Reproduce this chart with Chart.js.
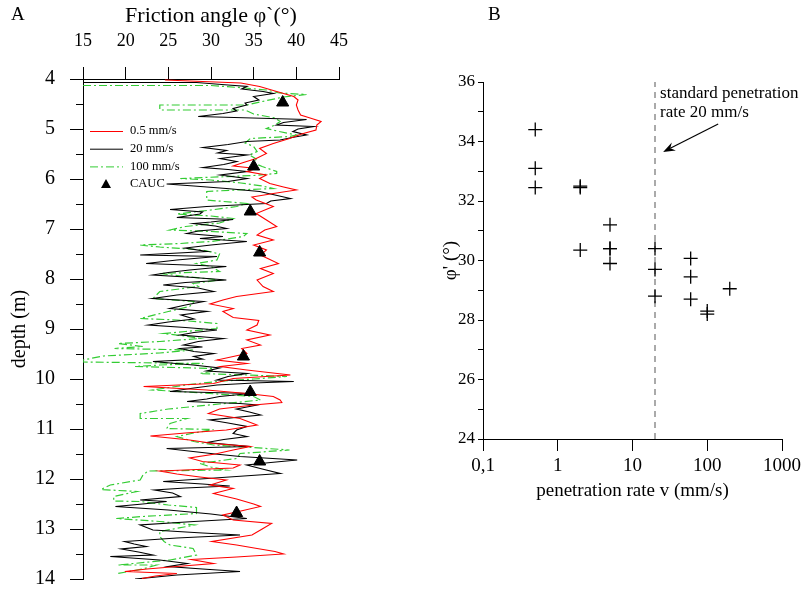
<!DOCTYPE html>
<html>
<head>
<meta charset="utf-8">
<script src="https://cdn.jsdelivr.net/npm/chart.js@4.4.1/dist/chart.umd.min.js"></script>
<style>
  html, body { margin: 0; padding: 0; background: #fff; }
  #page { position: relative; width: 809px; height: 590px; font-family: "Liberation Serif", "Times New Roman", serif; }
  .wrap { position: absolute; top: 0; }
  .tag { position: absolute; top: 3px; font-size: 19px; color: #000; }
</style>
</head>
<body>
<div id="page">
  <div class="wrap" style="left:0;width:400px;height:590px"><canvas id="chartA" width="400" height="590"></canvas></div>
  <div class="wrap" style="left:400px;width:409px;height:590px"><canvas id="chartB" width="409" height="590"></canvas></div>
  <div class="tag" style="left:11px">A</div>
  <div class="tag" style="left:488px">B</div>
</div>
<script>
// ---- panel A : friction angle profiles, [depth (m), phi (deg)] ----
const rate05 = [[4.02,24.6],[4.05,29.0],[4.08,33.5],[4.15,35.7],[4.25,37.7],[4.35,39.7],[4.42,40.2],[4.52,40.0],[4.62,40.2],[4.72,40.5],[4.79,41.8],[4.85,42.9],[4.92,42.4],[5.02,42.3],[5.10,40.6],[5.19,39.2],[5.29,37.3],[5.39,35.7],[5.49,36.5],[5.59,35.3],[5.67,33.8],[5.74,32.6],[5.79,35.3],[5.85,34.2],[5.92,36.5],[5.99,35.7],[6.09,36.9],[6.16,38.5],[6.22,40.0],[6.29,37.3],[6.36,34.8],[6.42,35.3],[6.55,37.3],[6.69,35.3],[6.82,36.5],[6.95,37.7],[7.02,36.3],[7.12,35.4],[7.22,37.3],[7.32,35.0],[7.42,36.5],[7.52,35.8],[7.69,37.9],[7.79,35.8],[7.89,37.3],[8.02,35.4],[8.15,36.1],[8.25,37.3],[8.35,33.0],[8.42,31.4],[8.50,29.9],[8.59,32.6],[8.65,31.4],[8.77,32.6],[8.83,35.6],[8.92,35.4],[9.02,34.2],[9.12,36.9],[9.22,34.2],[9.32,35.8],[9.39,33.6],[9.49,34.2],[9.55,32.6],[9.62,30.7],[9.69,34.2],[9.75,31.1],[9.82,34.2],[9.92,39.3],[9.99,32.6],[10.09,30.3],[10.15,22.1],[10.22,29.5],[10.29,34.2],[10.35,37.3],[10.42,38.1],[10.47,38.3],[10.52,35.0],[10.60,31.0],[10.69,29.7],[10.79,33.4],[10.92,35.4],[11.02,31.8],[11.08,27.0],[11.14,22.9],[11.22,27.5],[11.29,30.3],[11.35,34.6],[11.42,32.6],[11.50,30.5],[11.58,27.5],[11.65,29.0],[11.72,33.4],[11.78,32.6],[11.84,24.0],[11.90,26.0],[11.96,28.7],[12.02,31.8],[12.12,29.9],[12.19,32.6],[12.29,30.3],[12.40,33.0],[12.50,35.0],[12.55,35.8],[12.64,33.5],[12.72,31.4],[12.82,32.6],[12.89,37.1],[13.00,36.0],[13.12,34.8],[13.25,30.1],[13.32,33.0],[13.39,35.4],[13.45,37.5],[13.50,38.5],[13.56,33.0],[13.61,27.7],[13.69,30.3],[13.75,26.0],[13.80,22.5],[13.85,19.9],[13.89,26.0],[13.94,23.5],[13.99,21.9]];

const rate20 = [[4.07,15.0],[4.07,28.3],[4.12,32.0],[4.15,34.2],[4.20,33.6],[4.25,36.1],[4.29,37.3],[4.35,35.0],[4.42,35.6],[4.48,34.0],[4.52,34.2],[4.59,32.6],[4.64,33.0],[4.69,31.4],[4.75,28.5],[4.81,41.2],[4.87,38.5],[4.92,37.7],[4.95,42.0],[5.00,40.2],[5.05,39.6],[5.12,41.2],[5.17,39.5],[5.22,38.1],[5.25,34.2],[5.31,32.0],[5.37,29.1],[5.43,31.8],[5.48,30.8],[5.52,34.2],[5.59,31.1],[5.65,33.0],[5.71,31.5],[5.77,29.1],[5.81,32.0],[5.85,34.2],[5.92,31.1],[5.99,34.2],[6.05,32.0],[6.10,24.8],[6.14,28.0],[6.19,31.8],[6.25,35.7],[6.32,37.5],[6.39,39.3],[6.44,37.0],[6.49,36.5],[6.55,29.5],[6.61,25.2],[6.66,29.0],[6.70,28.7],[6.77,26.0],[6.81,32.6],[6.86,30.0],[6.89,28.0],[6.94,30.5],[6.99,31.8],[7.04,28.5],[7.09,27.2],[7.15,31.4],[7.19,28.7],[7.25,34.2],[7.32,30.0],[7.38,27.0],[7.45,29.5],[7.52,21.7],[7.55,30.7],[7.62,26.0],[7.69,22.4],[7.75,31.8],[7.82,27.5],[7.87,25.0],[7.92,23.2],[7.97,28.0],[8.02,31.8],[8.07,27.0],[8.12,24.4],[8.18,28.5],[8.25,30.3],[8.32,26.0],[8.39,23.2],[8.45,29.1],[8.52,27.0],[8.59,25.2],[8.65,29.5],[8.72,26.5],[8.80,28.0],[8.86,25.0],[8.92,22.7],[8.97,27.0],[9.02,30.7],[9.07,28.0],[9.12,26.4],[9.19,31.4],[9.25,28.5],[9.32,26.8],[9.36,29.0],[9.39,26.4],[9.45,28.0],[9.49,30.3],[9.55,28.0],[9.60,29.0],[9.65,23.2],[9.72,27.9],[9.78,31.0],[9.84,29.5],[9.89,34.2],[9.95,32.0],[10.02,30.7],[10.05,39.7],[10.08,35.0],[10.12,30.7],[10.18,28.0],[10.25,25.2],[10.29,34.6],[10.35,31.0],[10.40,29.5],[10.45,27.2],[10.49,33.4],[10.52,35.4],[10.60,33.0],[10.66,34.5],[10.72,35.8],[10.82,29.9],[10.88,32.0],[10.95,34.2],[11.02,33.0],[11.09,32.6],[11.15,34.2],[11.21,31.5],[11.27,29.5],[11.35,34.6],[11.39,24.8],[11.45,27.9],[11.50,30.5],[11.55,33.4],[11.62,40.1],[11.67,37.0],[11.72,34.2],[11.80,36.0],[11.89,38.1],[11.95,33.0],[12.01,27.9],[12.05,24.4],[12.10,29.0],[12.14,32.2],[12.18,27.0],[12.22,23.4],[12.28,25.5],[12.35,26.4],[12.42,21.7],[12.45,24.8],[12.50,22.0],[12.55,18.8],[12.62,25.0],[12.70,30.0],[12.79,34.2],[12.85,28.0],[12.92,21.7],[13.02,23.2],[13.08,29.0],[13.12,33.4],[13.18,26.0],[13.25,19.9],[13.30,21.0],[13.35,22.4],[13.40,19.5],[13.46,21.5],[13.52,23.2],[13.55,18.2],[13.62,24.0],[13.69,27.2],[13.75,25.0],[13.80,29.0],[13.85,33.4],[13.92,26.0],[14.00,21.1]];

const rate100 = [[4.13,15.0],[4.13,30.0],[4.18,34.0],[4.22,36.5],[4.28,38.0],[4.31,41.2],[4.36,38.5],[4.45,36.0],[4.52,34.2],[4.52,24.0],[4.62,24.0],[4.62,34.0],[4.70,35.0],[4.78,37.5],[4.85,38.1],[4.92,37.5],[4.99,36.5],[5.05,38.0],[5.12,40.0],[5.15,39.2],[5.19,34.6],[5.28,34.0],[5.35,35.0],[5.45,35.4],[5.52,34.5],[5.60,35.3],[5.68,35.0],[5.75,36.0],[5.85,37.7],[5.89,37.7],[5.93,35.0],[5.99,26.4],[6.02,30.0],[6.08,33.5],[6.14,36.0],[6.19,37.3],[6.22,33.0],[6.25,29.5],[6.42,29.5],[6.49,34.2],[6.55,33.0],[6.62,30.0],[6.70,26.0],[6.74,30.0],[6.79,32.6],[6.88,31.0],[6.95,27.0],[7.02,25.2],[7.05,30.0],[7.09,34.2],[7.15,33.8],[7.25,30.0],[7.29,26.4],[7.32,21.7],[7.36,24.0],[7.42,29.0],[7.50,31.0],[7.62,30.7],[7.69,28.3],[7.75,30.0],[7.85,31.0],[7.89,24.0],[7.95,27.0],[8.02,31.0],[8.09,27.9],[8.15,28.5],[8.25,24.0],[8.39,23.2],[8.45,28.0],[8.55,27.5],[8.65,25.0],[8.79,21.7],[8.82,26.0],[8.89,30.7],[8.99,30.7],[9.05,27.0],[9.09,24.4],[9.14,27.0],[9.19,28.7],[9.25,24.0],[9.29,19.1],[9.35,22.0],[9.39,18.7],[9.42,27.9],[9.48,24.0],[9.54,17.4],[9.62,15.0],[9.66,15.0],[9.69,29.1],[9.72,24.0],[9.75,21.1],[9.79,30.3],[9.85,30.0],[9.89,28.7],[9.92,34.2],[9.95,38.9],[10.00,35.0],[10.05,30.7],[10.12,27.0],[10.22,23.2],[10.28,29.0],[10.35,35.0],[10.42,35.8],[10.50,31.0],[10.60,25.0],[10.69,21.7],[10.79,21.7],[10.79,27.2],[10.89,25.2],[10.99,24.8],[11.01,30.3],[11.08,28.0],[11.15,26.0],[11.25,28.0],[11.32,30.3],[11.42,39.2],[11.49,33.4],[11.59,33.0],[11.69,28.7],[11.76,30.0],[11.82,31.8],[11.84,22.6],[11.93,22.0],[12.02,21.7],[12.12,18.2],[12.21,17.1],[12.25,21.3],[12.35,18.6],[12.44,18.6],[12.45,21.7],[12.52,25.0],[12.57,28.3],[12.69,28.3],[12.75,22.0],[12.79,18.9],[12.85,24.0],[12.92,28.1],[13.05,24.0],[13.15,24.0],[13.25,24.5],[13.32,25.2],[13.39,27.9],[13.52,28.3],[13.62,25.2],[13.72,19.1],[13.72,23.6],[13.80,22.0],[13.89,19.1]];

const caucDepth = [4.47, 5.75, 6.65, 7.47, 9.55, 10.26, 11.65, 12.68];
const caucPhi   = [38.4, 35.0, 34.6, 35.7, 33.8, 34.6, 35.7, 33.0];

const phiTicksA = [15, 20, 25, 30, 35, 40, 45];
const depthTicks = [4, 5, 6, 7, 8, 9, 10, 11, 12, 13, 14];

// ---- panel B : phi' vs penetration rate ----
const rateV  = [0.5, 0.5, 0.5, 2, 2, 2, 5, 5, 5, 5, 20, 20, 20, 60, 60, 60, 100, 100, 200];
const phiV   = [34.4, 33.1, 32.45, 32.5, 32.45, 30.35, 31.2, 30.4, 30.4, 29.9, 30.4, 29.7, 28.8, 30.07, 29.45, 28.7, 28.3, 28.2, 29.05];
const stdRate = 20;
const xTicksB = [0.1, 1, 10, 100, 1000];
const xLabelsB = ['0,1', '1', '10', '100', '1000'];
const noteLines = ['standard penetration', 'rate 20 mm/s'];
const noteAt = [23.4, 35.6];
const arrowFrom = [140, 34.59];
const arrowTo = [25.7, 33.65];

Chart.defaults.font.family = '"Liberation Serif", "Times New Roman", serif';
Chart.defaults.color = '#000';

const serif = '"Liberation Serif", "Times New Roman", serif';
const toXY = arr => arr.map(p => ({ x: p[1], y: p[0] }));

// short ticks at the half metres
const minorTicks = {
  id: 'minorTicks',
  afterDraw(chart) {
    const y = chart.scales.y, ctx = chart.ctx;
    ctx.save();
    ctx.strokeStyle = '#000';
    ctx.lineWidth = 1;
    y.ticks.forEach(t => {
      if (Number.isInteger(t.value)) return;
      const py = Math.round(y.getPixelForValue(t.value)) + 0.5;
      ctx.beginPath();
      ctx.moveTo(y.right - 7, py);
      ctx.lineTo(y.right, py);
      ctx.stroke();
    });
    ctx.restore();
  }
};

const legendA = {
  id: 'legendA',
  afterDraw(chart) {
    const ctx = chart.ctx, a = chart.chartArea;
    const ds = chart.data.datasets;
    const order = [1, 2, 3, 0];
    ctx.save();
    ctx.font = '12.5px ' + serif;
    ctx.textBaseline = 'middle';
    ctx.fillStyle = '#000';
    order.forEach((i, k) => {
      const y = a.top + 52 + k * 17.7;
      const d = ds[i];
      if (d.showLine) {
        ctx.strokeStyle = d.borderColor;
        ctx.lineWidth = 1;
        ctx.setLineDash(d.borderDash || []);
        ctx.beginPath();
        ctx.moveTo(a.left + 7, y + 0.5);
        ctx.lineTo(a.left + 40, y + 0.5);
        ctx.stroke();
        ctx.setLineDash([]);
      } else {
        const cx = a.left + 23;
        ctx.beginPath();
        ctx.moveTo(cx, y - 5);
        ctx.lineTo(cx + 5, y + 4);
        ctx.lineTo(cx - 5, y + 4);
        ctx.closePath();
        ctx.fill();
      }
      ctx.fillText(d.label, a.left + 47, y);
    });
    ctx.restore();
  }
};

new Chart(document.getElementById('chartA'), {
  type: 'scatter',
  data: {
    datasets: [
      {
        label: 'CAUC',
        data: caucDepth.map((d, i) => ({ x: caucPhi[i], y: d })),
        showLine: false,
        pointStyle: 'triangle',
        pointRadius: 7,
        backgroundColor: '#000',
        borderColor: '#000',
        borderWidth: 1
      },
      {
        label: '0.5 mm/s',
        data: toXY(rate05),
        showLine: true,
        borderColor: '#ff0000',
        borderWidth: 1.1,
        pointRadius: 0,
        tension: 0
      },
      {
        label: '20 mm/s',
        data: toXY(rate20),
        showLine: true,
        borderColor: '#000000',
        borderWidth: 1.2,
        pointRadius: 0,
        tension: 0
      },
      {
        label: '100 mm/s',
        data: toXY(rate100),
        showLine: true,
        borderColor: '#33cc33',
        borderDash: [8, 3, 2, 3],
        borderWidth: 1.2,
        pointRadius: 0,
        tension: 0
      }
    ]
  },
  options: {
    animation: false,
    responsive: false,
    devicePixelRatio: 1,
    layout: { padding: { left: 8, top: 3, right: 61, bottom: 11 } },
    plugins: { legend: { display: false }, tooltip: { enabled: false } },
    scales: {
      x: {
        type: 'linear',
        position: 'top',
        min: 15, max: 45,
        afterBuildTicks: s => { s.ticks = phiTicksA.map(v => ({ value: v })); },
        ticks: { padding: 15, font: { size: 18 }, color: '#000', maxRotation: 0 },
        grid: { drawOnChartArea: false, tickLength: 12, color: '#000', tickColor: '#000' },
        border: { display: true, color: '#000', width: 1 },
        title: { display: true, text: 'Friction angle φ`(°)', font: { size: 22 }, color: '#000', padding: 0 },
        afterFit: s => { s.height = 76; s.paddingLeft = 0; s.paddingRight = 0; }
      },
      y: {
        type: 'linear',
        reverse: true,
        min: 4, max: 14,
        ticks: {
          stepSize: 0.5, autoSkip: false, padding: 15,
          font: { size: 20 }, color: '#000',
          callback: v => depthTicks.includes(v) ? String(v) : ''
        },
        grid: {
          drawOnChartArea: false, tickLength: 13, color: '#000',
          tickColor: c => Number.isInteger(c.tick.value) ? '#000' : 'rgba(0,0,0,0)'
        },
        border: { display: true, color: '#000', width: 1 },
        title: { display: true, text: 'depth (m)', font: { size: 20 }, color: '#000', padding: 0 },
        afterFit: s => { s.width = 75; s.paddingTop = 0; s.paddingBottom = 0; }
      }
    }
  },
  plugins: [minorTicks, legendA]
});

// text + arrow for the standard rate
const noteB = {
  id: 'noteB',
  afterDraw(chart) {
    const x = chart.scales.x, y = chart.scales.y, ctx = chart.ctx;
    ctx.save();
    ctx.fillStyle = '#000';
    ctx.font = '17px ' + serif;
    ctx.textBaseline = 'middle';
    const tx = x.getPixelForValue(noteAt[0]), ty = y.getPixelForValue(noteAt[1]);
    noteLines.forEach((t, i) => ctx.fillText(t, tx, ty + i * 19));
    const x0 = x.getPixelForValue(arrowFrom[0]), y0 = y.getPixelForValue(arrowFrom[1]);
    const x1 = x.getPixelForValue(arrowTo[0]), y1 = y.getPixelForValue(arrowTo[1]);
    const ang = Math.atan2(y1 - y0, x1 - x0);
    ctx.strokeStyle = '#000';
    ctx.lineWidth = 1.2;
    ctx.beginPath();
    ctx.moveTo(x0, y0);
    ctx.lineTo(x1 - 8 * Math.cos(ang), y1 - 8 * Math.sin(ang));
    ctx.stroke();
    ctx.beginPath();
    ctx.moveTo(x1, y1);
    ctx.lineTo(x1 - 12 * Math.cos(ang) + 4.5 * Math.sin(ang), y1 - 12 * Math.sin(ang) - 4.5 * Math.cos(ang));
    ctx.lineTo(x1 - 8 * Math.cos(ang), y1 - 8 * Math.sin(ang));
    ctx.lineTo(x1 - 12 * Math.cos(ang) - 4.5 * Math.sin(ang), y1 - 12 * Math.sin(ang) + 4.5 * Math.cos(ang));
    ctx.closePath();
    ctx.fill();
    ctx.restore();
  }
};

new Chart(document.getElementById('chartB'), {
  type: 'scatter',
  data: {
    datasets: [
      {
        label: 'tests',
        data: rateV.map((v, i) => ({ x: v, y: phiV[i] })),
        pointStyle: 'cross',
        pointRadius: 7,
        borderColor: '#000',
        borderWidth: 1.3,
        backgroundColor: '#000'
      },
      {
        label: 'standard rate',
        data: [{ x: stdRate, y: 24 }, { x: stdRate, y: 36 }],
        showLine: true,
        borderColor: '#aaaaaa',
        borderDash: [6, 5],
        borderWidth: 2,
        pointRadius: 0
      }
    ]
  },
  options: {
    animation: false,
    responsive: false,
    devicePixelRatio: 1,
    layout: { padding: { left: 40, top: 82, right: 27, bottom: 88 } },
    plugins: { legend: { display: false }, tooltip: { enabled: false } },
    scales: {
      x: {
        type: 'logarithmic',
        position: 'bottom',
        min: 0.1, max: 1000,
        afterBuildTicks: s => { s.ticks = xTicksB.map(v => ({ value: v })); },
        ticks: {
          autoSkip: false, maxRotation: 0, padding: 4, font: { size: 19 }, color: '#000',
          callback: (v, i) => xLabelsB[i]
        },
        grid: { drawOnChartArea: false, tickLength: 12, color: '#000', tickColor: '#000' },
        border: { display: true, color: '#000', width: 1 },
        title: { display: true, text: 'penetration rate v (mm/s)', font: { size: 19 }, color: '#000', padding: 0 },
        afterFit: s => { s.height = 63; s.paddingLeft = 0; s.paddingRight = 0; }
      },
      y: {
        type: 'linear',
        min: 24, max: 36,
        ticks: {
          stepSize: 1, autoSkip: false, padding: 3, font: { size: 17 }, color: '#000',
          callback: v => v % 2 === 0 ? String(v) : ''
        },
        grid: { drawOnChartArea: false, tickLength: 5, color: '#000', tickColor: '#000' },
        border: { display: true, color: '#000', width: 1 },
        title: { display: true, text: "φ' (°)", font: { size: 19 }, color: '#000', padding: 0 },
        afterFit: s => { s.width = 43; s.paddingTop = 0; s.paddingBottom = 0; }
      }
    }
  },
  plugins: [noteB]
});
</script>
</body>
</html>
